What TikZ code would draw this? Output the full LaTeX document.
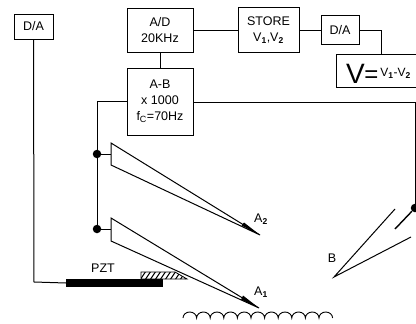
\documentclass[tikz,border=0pt]{standalone}
\usepackage{fontspec}
\setmainfont{Liberation Sans}
\tikzset{
  x=1pt,y=-1pt,
  wire/.style={draw=black,line width=1pt},
  blockbox/.style={draw=black,line width=1pt,inner sep=0pt,align=center,font=\fontsize{12.5}{16}\selectfont},
  junction/.style={circle,fill=black,inner sep=0pt,minimum size=8.5pt},
  lbl/.style={inner sep=0pt,font=\fontsize{12.5}{15}\selectfont},
  pipette/.style={draw=black,line width=1pt,line join=miter},
}
\newcommand{\sbs}[1]{\textsubscript{\fontsize{8.5}{9}\selectfont\bfseries #1}}
\begin{document}
\begin{tikzpicture}
\useasboundingbox (0,0) rectangle (416,324);
% blocks
\node[blockbox,minimum width=39pt,minimum height=25pt] (da1) at (33.5,26.5) {D/A};
\node[blockbox,minimum width=66pt,minimum height=44pt] (ad) at (160,30) {A/D\\20KHz};
\node[blockbox,minimum width=66pt,minimum height=67pt] (ab) at (160,101.5) {A-B\\x 1000\\f\textsubscript{\fontsize{9}{9}\selectfont C}=70Hz};
\node[blockbox,minimum width=61pt,minimum height=45pt] (store) at (268.5,30) {STORE\\V\sbs{1},V\sbs{2}};
\node[blockbox,minimum width=38pt,minimum height=29pt] (da2) at (340,30) {D/A};
% open-sided V box
\coordinate (vtl) at (336,54);
\coordinate (vbl) at (336,87);
\coordinate (vtr) at (416,54);
\coordinate (vbr) at (416,87);
\coordinate (vtop) at (381,54);
\draw[wire] (vtr) -- (vtl) -- (vbl) -- (vbr);
\node[inner sep=0pt,anchor=base west] (vtext) at (346,83) {\fontsize{28}{28}\selectfont V\kern-0.5pt\raisebox{1pt}{\fontsize{24}{24}\selectfont =}\kern2pt\raisebox{6pt}{\fontsize{12}{12}\selectfont V\sbs{1}-V\sbs{2}}};
% junctions
\node[junction] (j2) at (97,154) {};
\node[junction] (j1) at (97,229) {};
\node[junction] (jb) at (415,208) {};
% wires
\draw[wire] (ad) -- (ab);
\draw[wire] (ad) -- (store);
\draw[wire] (store) -- (da2);
\draw[wire] (da2.east) -| (vtop);
\draw[wire] (ab.west) -| (j2);
\draw[wire] (j2) -- (j1);
\coordinate (corner) at (415,102);
\draw[wire] (ab.east |- corner) -- (corner) -- (jb);
\coordinate (a2back) at (111,154);
\coordinate (a1back) at (111,229);
\draw[wire] (j2) -- (a2back);
\draw[wire] (j1) -- (a1back);
% pipettes A2, A1
\coordinate (a2t) at (260,235);
\coordinate (a1t) at (259,308);
\draw[pipette] (a2t) -- (111,143) -- (111,165) -- cycle;
\draw[pipette] (a1t) -- (111,218) -- (111,241) -- cycle;
\fill (a2t) -- (244,222.5) -- (241.5,225.5) -- cycle;
\fill (a1t) -- (243,295.5) -- (241,299.5) -- cycle;
% pipette B
\coordinate (bt) at (334,277);
\draw[wire] (395,209) -- (bt) -- (411,237);
\draw[line width=1.4pt] (jb) -- (395,229);
% PZT
\coordinate (pzta) at (66,283);
\fill (66,279) rectangle (163,287);
\draw[wire] (da1) -- (34,282) -- (pzta);
\begin{scope}
  \clip (141,279) -- (141,272) -- (175,272) -- (187,279) -- cycle;
  \foreach \k in {0,...,9} { \draw[line width=1.1pt] (140+5*\k,280) -- (146+5*\k,271); }
\end{scope}
\draw[line width=.8pt] (141,279) -- (141,272) -- (175,272) -- (187,279) -- cycle;
% surface
\draw[line width=.9pt] (183,318)
  \foreach \i in {1,...,11} { arc[start angle=180,end angle=0,x radius=6.8,y radius=-6] };
% labels
\node[lbl] (pzt) at (103,268) {PZT};
\node[lbl] (la2) at (261,219) {A\sbs{2}};
\node[lbl] (la1) at (261,292) {A\sbs{1}};
\node[lbl] (lb) at (332,258) {B};
\end{tikzpicture}
\end{document}
